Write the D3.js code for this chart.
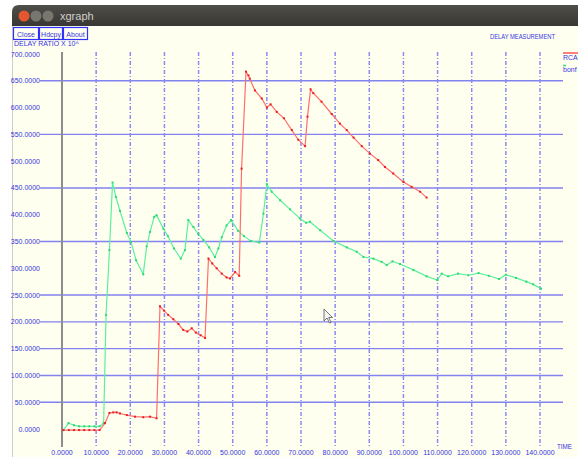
<!DOCTYPE html>
<html>
<head>
<meta charset="utf-8">
<script src="https://cdn.jsdelivr.net/npm/d3@7"></script>
<style>
body { margin: 0; background: #ffffff; }
text { font-family: "Liberation Sans", sans-serif; }
</style>
</head>
<body>
<script>
const w = 578;
const h = 457;

// tick values
const xTicks = [0, 10, 20, 30, 40, 50, 60, 70, 80, 90, 100, 110, 120, 130, 140];
const yTicks = [0, 50, 100, 150, 200, 250, 300, 350, 400, 450, 500, 550, 600, 650, 700];
const yGridTicks = [50, 100, 150, 200, 250, 350, 450, 550, 650];
const seriesNames = ["RCA", "bonf"];

// green series (bonf)
const greenT = [0.4, 1.9, 3.5, 5, 6.5, 8, 9.5, 11, 12.2, 12.9, 13.9, 14.8, 15.8, 17, 19, 20.2, 21.7, 23.8,
  24.8, 25.8, 27.0, 27.7, 29.7, 31, 32.8, 34.8, 36, 37, 38.5, 39.9, 41.4, 43.1, 44.8, 45.8, 46.8, 48.2,
  49.5, 51.6, 53.3, 55.3, 57.8, 59, 60, 61.4, 63.9, 66.8, 69.7, 71.5, 72.6, 75.6, 79.5, 83.4, 86.3, 88.3,
  91.2, 93.6, 95.1, 96.8, 99, 102.9, 106.8, 109.9, 111.2, 113.1, 116, 119, 122, 125, 128, 130, 133, 136,
  138, 140.3];
const greenV = [-2, 11, 7, 5, 5, 5, 5, 5, 11, 213, 334, 460, 433, 407, 366, 349, 315, 289,
  341, 368, 396, 399, 374, 360, 337, 318, 334, 390, 377, 364, 353, 339, 321, 337, 358, 380,
  390, 370, 360, 351, 348, 402, 457, 443, 427, 410, 393, 385, 387, 371, 351, 339, 331, 321,
  318, 312, 306, 313, 308, 297, 285, 278, 290, 285, 290, 287, 291, 286, 280, 288, 282, 275,
  270, 262];

// red series (RCA)
const redT = [0.4, 2, 3.5, 5, 6.5, 8, 9.5, 11, 12.6, 13.9, 15, 16, 17, 19, 21.4, 23.8, 25.8, 27.7,
  28.7, 29.9, 31.1, 32.6, 34.1, 35.5, 36.7, 38, 39.2, 40.6, 41.9, 42.9, 44, 45.3, 46.8, 48.2, 49.2,
  50.7, 51.9, 52.6, 53.9, 54.6, 55, 56.5, 58.5, 60, 61.1, 62.9, 65, 67.3, 69.2, 71.2, 71.9, 72.8,
  73.6, 76.0, 79, 81.4, 83.4, 85.4, 87.8, 90.2, 92.6, 94.6, 97, 100, 102.4, 104.9, 106.8];
const redV = [-2, -2, -2, -2, -2, -2, -2, -2, 11, 30, 31, 31, 29, 26, 23, 22, 23, 20,
  229, 221, 213, 205, 196, 185, 182, 188, 180, 175, 170, 318, 309, 300, 290, 283, 281,
  293, 286, 486, 667, 660, 654, 632, 617, 600, 606, 592, 580, 558, 540, 528, 583, 634,
  627, 611, 588, 570, 558, 544, 528, 514, 502, 489, 477, 461, 452, 443, 432];

const textCol = "#3535e0";

let svg = d3.select("body").append("svg")
    .attr("width", w)
    .attr("height", h)
    .style("display", "block");

// window frame
svg.append("rect").attr("x", 12).attr("y", 26).attr("width", w - 12).attr("height", h - 26)
    .attr("fill", "#fffff0");
svg.append("line").attr("x1", 12.5).attr("x2", 12.5).attr("y1", 26).attr("y2", h)
    .attr("stroke", "#cfcfc4").attr("stroke-width", 1);

let grad = svg.append("defs").append("linearGradient").attr("id", "tb")
    .attr("x1", 0).attr("x2", 0).attr("y1", 0).attr("y2", 1);
grad.append("stop").attr("offset", "0%").attr("stop-color", "#4f4e49");
grad.append("stop").attr("offset", "100%").attr("stop-color", "#383733");
svg.append("path")
    .attr("d", "M12,26 L12,12 Q12,5 19,5 L578,5 L578,26 Z")
    .attr("fill", "url(#tb)");
svg.append("circle").attr("cx", 24).attr("cy", 16).attr("r", 5.5).attr("fill", "#e4562f");
svg.append("circle").attr("cx", 36).attr("cy", 16).attr("r", 5.5).attr("fill", "#77766f");
svg.append("circle").attr("cx", 48).attr("cy", 16).attr("r", 5.5).attr("fill", "#77766f");
svg.append("text").attr("x", 60).attr("y", 20).attr("fill", "#d0d0ca")
    .attr("font-size", 11).text("xgraph");

// buttons
const buttons = [["Close", 13, 25], ["Hdcpy", 39, 23], ["About", 63, 24]];
buttons.forEach(function (b) {
    svg.append("rect").attr("x", b[1] + 0.5).attr("y", 27.5).attr("width", b[2]).attr("height", 12)
        .attr("fill", "none").attr("stroke", "#3030ff").attr("stroke-width", 1.2);
    svg.append("text").attr("x", b[1] + 0.5 + b[2] / 2).attr("y", 36.5).attr("text-anchor", "middle")
        .attr("fill", textCol).attr("font-size", 7).text(b[0]);
});

// scales
const x = d3.scaleLinear().domain([0, 140]).range([62, 540]);
const y = d3.scaleLinear().domain([0, 700]).range([429, 54]);

// horizontal grid
svg.append("g").selectAll("line").data(yGridTicks).join("line")
    .attr("x1", 40).attr("x2", 563)
    .attr("y1", d => y(d)).attr("y2", d => y(d))
    .attr("stroke", "#6d6df0").attr("stroke-width", 1.4).attr("opacity", 0.85);

// vertical dashed grid
svg.append("g").selectAll("line").data(xTicks.slice(1)).join("line")
    .attr("x1", d => x(d)).attr("x2", d => x(d))
    .attr("y1", 52).attr("y2", 447)
    .attr("stroke", "#8a8af2").attr("stroke-width", 1.5)
    .attr("stroke-dasharray", "4,2,1,2");

// y axis line
svg.append("line").attr("x1", x(0)).attr("x2", x(0)).attr("y1", 52).attr("y2", 447)
    .attr("stroke", "#8d8d8d").attr("stroke-width", 2);

// tick labels
svg.append("g").selectAll("text").data(yTicks).join("text")
    .attr("x", 40).attr("y", d => y(d) + 2.5)
    .attr("text-anchor", "end").attr("fill", textCol).attr("font-size", 7)
    .text(d => d3.format(".4f")(d));
svg.append("g").selectAll("text").data(xTicks).join("text")
    .attr("x", d => x(d)).attr("y", 455)
    .attr("text-anchor", "middle").attr("fill", textCol).attr("font-size", 7)
    .text(d => d3.format(".4f")(d));

svg.append("text").attr("x", 14).attr("y", 46).attr("fill", textCol).attr("font-size", 7)
    .text("DELAY RATIO X 10^");
svg.append("text").attr("x", 490).attr("y", 39).attr("fill", textCol).attr("font-size", 7)
    .attr("textLength", 65).attr("lengthAdjust", "spacingAndGlyphs").text("DELAY MEASUREMENT");
svg.append("text").attr("x", 557).attr("y", 449).attr("fill", textCol).attr("font-size", 8)
    .attr("textLength", 15).attr("lengthAdjust", "spacingAndGlyphs").text("TIME");

// legend
svg.append("line").attr("x1", 563).attr("x2", 578).attr("y1", 53).attr("y2", 53)
    .attr("stroke", "#ff5555").attr("stroke-width", 1.5);
svg.append("text").attr("x", 563).attr("y", 60).attr("fill", textCol).attr("font-size", 7).text(seriesNames[0]);
svg.append("line").attr("x1", 563).attr("x2", 566).attr("y1", 65.5).attr("y2", 65.5)
    .attr("stroke", "#33dd77").attr("stroke-width", 1.5);
svg.append("text").attr("x", 563).attr("y", 72).attr("fill", textCol).attr("font-size", 7).text(seriesNames[1]);

// series
function drawSeries(ts, vs, lineCol, dotCol) {
    const pts = ts.map((t, i) => [t, vs[i]]);
    svg.append("path").datum(pts)
        .attr("fill", "none").attr("stroke", lineCol).attr("stroke-width", 1.2)
        .attr("d", d3.line().x(d => x(d[0])).y(d => y(d[1])));
    svg.append("g").selectAll("rect").data(pts).join("rect")
        .attr("x", d => x(d[0]) - 1).attr("y", d => y(d[1]) - 1)
        .attr("width", 2).attr("height", 2).attr("fill", dotCol);
}
drawSeries(greenT, greenV, "#5cf0a0", "#2fd873");
drawSeries(redT, redV, "#ff6e6e", "#e82020");

// mouse pointer
svg.append("path")
    .attr("d", "M324,309 L324,321 L327,318 L329.5,323 L331,322.3 L328.7,317.5 L332.5,317.5 Z")
    .attr("fill", "#f4f4f4").attr("stroke", "#555").attr("stroke-width", 0.8);
</script>
</body>
</html>
